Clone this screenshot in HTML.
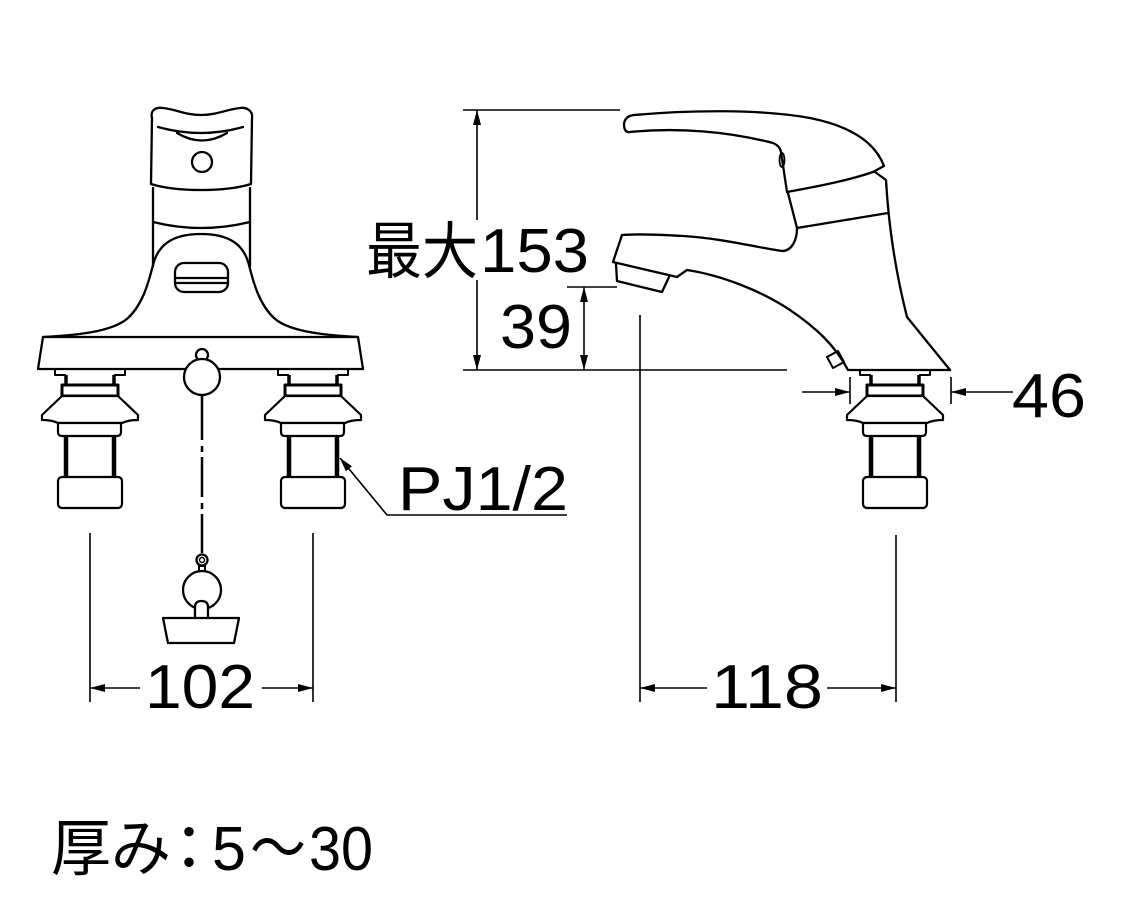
<!DOCTYPE html>
<html>
<head>
<meta charset="utf-8">
<style>
html,body{margin:0;padding:0;background:#fff;}
svg{display:block;}
text{font-family:"Liberation Sans","Noto Sans CJK JP",sans-serif;fill:#000;font-size:62px;}
</style>
</head>
<body>
<svg width="1124" height="920" viewBox="0 0 1124 920" xmlns="http://www.w3.org/2000/svg">
<defs>
  <g id="fit" fill="#fff" stroke="#000" stroke-linejoin="round">
    <path d="M-35,369 L-35,375 L-24,375 M35,369 L35,375 L24,375" fill="none" stroke-width="2"/>
    <path d="M-24,375 L-24,385 M24,375 L24,385" stroke-width="3.5"/>
    <rect x="-28" y="385" width="56" height="11" stroke-width="3"/>
    <path d="M-28,396 L-48,415 L-48,420 Q-38,420 -32,423 L32,423 Q38,420 48,420 L48,415 L28,396 Z" stroke-width="2.2"/>
    <path d="M-32,423 L31,423 L31,432 Q31,436 27,436 L-28,436 Q-32,436 -32,432 Z" stroke-width="2.2"/>
    <path d="M-24,436 L-24,477 M24,436 L24,477" stroke-width="4.5"/>
    <rect x="-32" y="477" width="64" height="31" rx="4" stroke-width="2.2"/>
  </g>
</defs>

<!-- ============ FRONT VIEW ============ -->
<g fill="none" stroke="#000" stroke-width="2.3" stroke-linejoin="round" stroke-linecap="round">
  <path d="M152,118 C150,110 156,107 163,108 C175,109 185,115 201,115 C217,115 228,109 240,108 C247,107 253,111 252,118 L251,184 C235,189 218,190 201,190 C184,190 167,189 151,184 Z"/>
  <path d="M158,127 Q201,139 243,127"/>
  <path d="M177,133 Q202,148 227,133"/>
  <circle cx="202" cy="162" r="10"/>
  <path d="M153,188 L153,266 M250,188 L250,266"/>
  <path d="M153,222 Q201,234 250,222"/>
  <path d="M43,337 C85,335 115,330 128,318 C142,305 148,285 153,265 C158,245 172,234 201,234 C230,234 244,245 249,265 C254,285 260,305 274,318 C287,330 317,335 358,337"/>
  <path d="M43,337 L358,337 L363,369 L38,369 Z"/>
  <rect x="175" y="263" width="53" height="29" rx="9"/>
  <path d="M176,278 L227,278 M176,283 L227,283"/>
  <circle cx="202" cy="355" r="6" fill="#fff"/>
  <circle cx="202" cy="377" r="18" fill="#fff"/>
  <path d="M202,395 L202,440 M202,446 L202,452 M202,457 L202,497 M202,503 L202,509 M202,514 L202,553" stroke-width="2.5" stroke-linecap="butt"/>
  <circle cx="202" cy="560" r="5.5"/>
  <circle cx="202" cy="560" r="2.5" stroke-width="1.5"/>
  <rect x="199" y="566" width="6" height="14" stroke-width="2"/>
  <circle cx="202" cy="590" r="19" fill="#fff"/>
  <path d="M195,618 L195,607 Q195,601 201.5,601 Q208,601 208,607 L208,618" fill="#fff"/>
  <path d="M163,618 L239,618 L234,643 L168,643 Z" fill="#fff"/>
</g>
<use href="#fit" transform="translate(90,0)"/>
<use href="#fit" transform="translate(313,0)"/>

<!-- ============ SIDE VIEW ============ -->
<g fill="none" stroke="#000" stroke-width="2.3" stroke-linejoin="round" stroke-linecap="round">
  <path d="M787,192 L781,152 Q780,146 773,143 C730,132 680,127 630,132 Q624,133 624,124 Q625,116 634,115 C690,110 760,109 810,118 C850,126 875,142 884,166 L873,172 C850,180 820,186 787,192 Z"/>
  <ellipse cx="782" cy="160" rx="2.5" ry="7" stroke-width="1.8"/>
  <path d="M875,172 L886,180 Q890,250 907,317 L950,370"/>
  <path d="M788,193 L797,228 L888,213"/>
  <path d="M797,228 C797,240 792,251 782,251 C760,248 720,238 683,236 C650,234 635,234 622,235 L613,262 L677,277"/>
  <path d="M616,264 L617,281 L662,292 L669,277"/>
  <path d="M677,277 L687,270 C720,275 760,290 790,310 C815,327 835,345 848,370 L950,370"/>
  <path d="M827,357 L838,351 L844,362 L833,368 Z" stroke-width="2"/>
</g>
<use href="#fit" transform="translate(895,0)"/>

<!-- ============ DIMENSIONS ============ -->
<g fill="none" stroke="#000" stroke-width="1.6">
  <path d="M463,110 L620,110"/>
  <path d="M463,370 L787,370"/>
  <path d="M477,110 L477,220 M477,280 L477,370"/>
  <path d="M567,287 L617,287"/>
  <path d="M584,287 L584,370"/>
  <path d="M802,392 L850,392 M850,377 L850,404 M951,377 L951,404 M951,392 L1013,392"/>
  <path d="M340,458 L387,515 L567,515"/>
  <path d="M90,533 L90,702 M313,533 L313,702 M90,688 L140,688 M262,688 L313,688"/>
  <path d="M640,315 L640,702 M896,535 L896,702 M640,688 L707,688 M827,688 L896,688"/>
</g>
<g fill="#000" stroke="none">
  <polygon points="477,110 473,125 481,125"/>
  <polygon points="477,370 473,355 481,355"/>
  <polygon points="584,287 580,302 588,302"/>
  <polygon points="584,370 580,355 588,355"/>
  <polygon points="850,392 835,388 835,396"/>
  <polygon points="951,392 966,388 966,396"/>
  <polygon points="340,458 345.8,471.3 352,466.3"/>
  <polygon points="90,688 105,684 105,692"/>
  <polygon points="313,688 298,684 298,692"/>
  <polygon points="640,688 655,684 655,692"/>
  <polygon points="896,688 881,684 881,692"/>
</g>

<!-- ============ TEXT ============ -->
<rect x="464" y="221" width="26" height="58" fill="#fff"/>
<text x="366" y="273" textLength="112" lengthAdjust="spacingAndGlyphs">最大</text>
<text x="480" y="272" textLength="109" lengthAdjust="spacingAndGlyphs">153</text>
<text x="500" y="348" textLength="72" lengthAdjust="spacingAndGlyphs">39</text>
<text x="1012" y="417" textLength="74" lengthAdjust="spacingAndGlyphs">46</text>
<text x="398" y="510" textLength="170" lengthAdjust="spacingAndGlyphs">PJ1/2</text>
<text x="145" y="708" textLength="110" lengthAdjust="spacingAndGlyphs">102</text>
<text x="711" y="708" textLength="112" lengthAdjust="spacingAndGlyphs">118</text>
<text x="51" y="870" textLength="120" lengthAdjust="spacingAndGlyphs">厚み</text>
<text x="189" y="870" text-anchor="middle">：</text>
<text x="212" y="870" textLength="34" lengthAdjust="spacingAndGlyphs">5</text>
<text x="278" y="870" text-anchor="middle" textLength="56" lengthAdjust="spacingAndGlyphs">〜</text>
<text x="309" y="870" textLength="64" lengthAdjust="spacingAndGlyphs">30</text>
</svg>
</body>
</html>
